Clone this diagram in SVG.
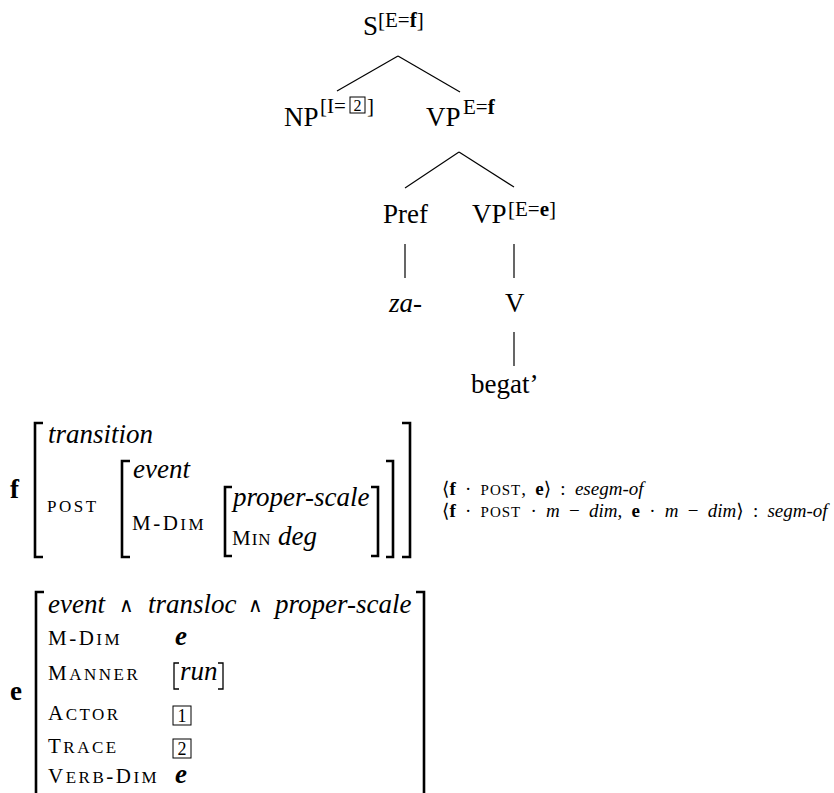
<svg xmlns="http://www.w3.org/2000/svg" width="834" height="793" viewBox="0 0 834 793">
<style>
text{font-family:'Liberation Serif','DejaVu Serif',serif;fill:#000}
.t{font-size:27px}
.sup{font-size:21px}
.it{font-style:italic}
.b{font-weight:bold}
.sc{font-size:21px;letter-spacing:2.5px}
.sm{font-size:17px}
.rel{font-size:19px;word-spacing:4.5px}
.rsm{font-size:15px;letter-spacing:1px}
.op{font-size:20px}
.edge{stroke:#000;stroke-width:1.2;fill:none}
.br{stroke:#000;stroke-width:2.6;fill:none}
.sbr{stroke:#000;stroke-width:1.3;fill:none}
.box{stroke:#000;stroke-width:1;fill:none}
.num{font-size:18px;text-anchor:middle}
.snum{font-size:16px;text-anchor:middle}
</style>

<g id="connectors">
<line class="edge" x1="398" y1="56" x2="337" y2="91"/>
<line class="edge" x1="398" y1="56" x2="460" y2="92"/>
<line class="edge" x1="459" y1="152" x2="405" y2="188"/>
<line class="edge" x1="459" y1="152" x2="514" y2="187"/>
<line class="edge" x1="405" y1="244" x2="405" y2="278"/>
<line class="edge" x1="514" y1="244" x2="514" y2="278"/>
<line class="edge" x1="514" y1="332" x2="514" y2="366"/>
</g>

<g id="node-S">
<text class="t" x="363" y="35">S</text>
<text class="sup" x="378" y="27">[E=<tspan class="b">f</tspan>]</text>
</g>

<g id="node-NP">
<text class="t" x="284" y="126">NP</text>
<text class="sup" x="320" y="113">[I=</text>
<rect class="box" x="350" y="97" width="15" height="16"/>
<text class="snum" x="357.5" y="111">2</text>
<text class="sup" x="367" y="113">]</text>
</g>

<g id="node-VP1">
<text class="t" x="426" y="126">VP</text>
<text class="sup" x="463" y="114">E=<tspan class="b">f</tspan></text>
</g>

<g id="node-Pref">
<text class="t" x="383" y="223">Pref</text>
</g>

<g id="node-VP2">
<text class="t" x="472" y="223">VP</text>
<text class="sup" x="508" y="216">[E=<tspan class="b">e</tspan>]</text>
</g>

<g id="node-za">
<text class="t it" x="389" y="312">za-</text>
</g>

<g id="node-V">
<text class="t" x="505" y="312">V</text>
</g>

<g id="node-begat">
<text class="t" x="471" y="393">begat’</text>
</g>

<g id="avm-f">
<text class="t b" x="10" y="498">f</text>
<path class="br" d="M43,423 H35 V557 H43"/>
<text class="t it" x="48" y="443">transition</text>
<text class="sc sm" x="47" y="512">POST</text>
<path class="br" d="M130,461 H122 V557 H130"/>
<text class="t it" x="133" y="478">event</text>
<text class="sc" x="132" y="530">M-D<tspan class="sm">IM</tspan></text>
<path class="br" d="M232,487 H225 V556 H232"/>
<text class="t it" x="233" y="506">proper-scale</text>
<text class="sc" x="232" y="545" style="letter-spacing:1px">M<tspan class="sm">IN</tspan></text>
<text class="t it" x="278" y="545">deg</text>
<path class="br" d="M371,487 H378 V556 H371"/>
<path class="br" d="M386,461 H393 V557 H386"/>
<path class="br" d="M402,423 H410 V557 H402"/>
</g>

<g id="relations">
<text class="rel" x="442" y="495">⟨<tspan class="b">f</tspan> · <tspan class="rsm">POST</tspan>, <tspan class="b">e</tspan>⟩ : <tspan class="it">esegm-of</tspan></text>
<text class="rel" x="442" y="517">⟨<tspan class="b">f</tspan> · <tspan class="rsm">POST</tspan> · <tspan class="it">m</tspan> − <tspan class="it">dim</tspan>, <tspan class="b">e</tspan> · <tspan class="it">m</tspan> − <tspan class="it">dim</tspan>⟩ : <tspan class="it">segm-of</tspan></text>
</g>

<g id="avm-e">
<text class="t b" x="10" y="700">e</text>
<path class="br" d="M44,592 H36 V800"/>
<path class="br" d="M416,592 H424 V800"/>
<text class="t it" x="48" y="613">event</text>
<text class="op" x="119" y="612">∧</text>
<text class="t it" x="148" y="613">transloc</text>
<text class="op" x="248" y="612">∧</text>
<text class="t it" x="275" y="613">proper-scale</text>
<text class="sc" x="48" y="645">M-D<tspan class="sm">IM</tspan></text>
<text class="t it b" x="175" y="645">e</text>
<text class="sc" x="48" y="680">M<tspan class="sm">ANNER</tspan></text>
<path class="sbr" d="M179,663 H174 V689 H179"/>
<text class="t it" x="180" y="680">run</text>
<path class="sbr" d="M218,663 H223 V689 H218"/>
<text class="sc" x="48" y="720">A<tspan class="sm">CTOR</tspan></text>
<rect class="box" x="173" y="706" width="18" height="19"/>
<text class="num" x="182" y="722">1</text>
<text class="sc" x="48" y="753">T<tspan class="sm">RACE</tspan></text>
<rect class="box" x="173" y="739" width="18" height="19"/>
<text class="num" x="182" y="755">2</text>
<text class="sc" x="48" y="783">V<tspan class="sm">ERB</tspan>-D<tspan class="sm">IM</tspan></text>
<text class="t it b" x="175" y="783">e</text>
</g>
</svg>
